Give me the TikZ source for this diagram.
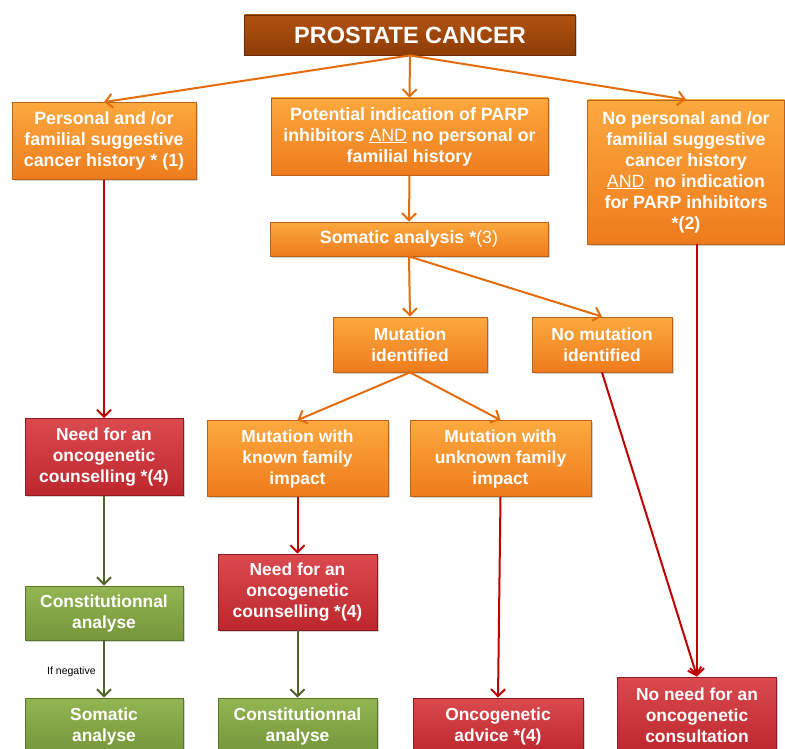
\documentclass[tikz,border=0pt]{standalone}
\usepackage{fontspec}
\setmainfont{Liberation Sans}
\usetikzlibrary{arrows.meta,shadows}
\definecolor{orT}{HTML}{FCA93E}
\definecolor{orB}{HTML}{EE7B1C}
\definecolor{orD}{HTML}{B8621C}
\definecolor{brT}{HTML}{B0520F}
\definecolor{brB}{HTML}{8E3C07}
\definecolor{brD}{HTML}{6A2C05}
\definecolor{rdT}{HTML}{DA4A4F}
\definecolor{rdB}{HTML}{BC272D}
\definecolor{rdD}{HTML}{8A1C20}
\definecolor{gnT}{HTML}{93B552}
\definecolor{gnB}{HTML}{76963A}
\definecolor{gnD}{HTML}{5A7429}
\definecolor{arO}{HTML}{E46C0A}
\definecolor{arR}{HTML}{C00000}
\definecolor{arG}{HTML}{4F6228}
\tikzset{
  basebox/.style={rectangle, line width=0.8pt, inner sep=2pt, align=center,
    text=white, drop shadow={opacity=0.35, shadow xshift=1.5pt, shadow yshift=-1.5pt}},
  obox/.style={basebox, top color=orT, bottom color=orB, draw=orD,
    font=\bfseries\fontsize{17.8}{21}\selectfont},
  mbox/.style={basebox, top color=orT, bottom color=orB, draw=orD,
    font=\bfseries\fontsize{17.4}{21}\selectfont},
  rbox/.style={basebox, top color=rdT, bottom color=rdB, draw=rdD,
    font=\bfseries\fontsize{17.4}{21}\selectfont},
  gbox/.style={basebox, top color=gnT, bottom color=gnB, draw=gnD,
    font=\bfseries\fontsize{17.4}{21}\selectfont},
  tbox/.style={basebox, top color=brT, bottom color=brB, draw=brD,
    font=\bfseries\fontsize{23.5}{26}\selectfont},
  conn/.style={line width=2pt, -{Straight Barb[length=7pt,width=14pt,line width=2pt]}},
  aor/.style={conn, draw=arO},
  ard/.style={conn, draw=arR},
  agr/.style={conn, draw=arG},
}
\begin{document}
\begin{tikzpicture}[x=1pt,y=-1pt]
\useasboundingbox[fill=white] (0,0) rectangle (785,749);
\node[tbox, minimum width=331pt, minimum height=40pt] (title) at (410,35) {PROSTATE CANCER};
\node[obox, minimum width=184pt, minimum height=77pt] (b1) at (104,141)
  {Personal and /or\\familial suggestive\\cancer history * (1)};
\node[obox, minimum width=277pt, minimum height=77pt] (b2) at (409.5,136.5)
  {Potential indication of PARP\\inhibitors {\mdseries\underline{AND}} no personal or\\familial history};
\node[obox, minimum width=197pt, minimum height=144pt] (b3) at (686,172)
  {No personal and /or\\familial suggestive\\cancer history\\{\mdseries\underline{AND}}\ \ no indication\\for PARP inhibitors\\*(2)};
\node[obox, minimum width=278pt, minimum height=34pt] (som) at (409,239)
  {Somatic analysis *{\mdseries(3)}};
\node[mbox, minimum width=154pt, minimum height=55pt] (mi) at (410,344.5)
  {Mutation\\identified};
\node[mbox, minimum width=140pt, minimum height=55pt] (nmi) at (602,344.5)
  {No mutation\\identified};
\node[rbox, minimum width=158pt, minimum height=77pt] (need1) at (104,457)
  {Need for an\\oncogenetic\\counselling *(4)};
\node[mbox, minimum width=181pt, minimum height=76pt] (mk) at (297.5,458.5)
  {Mutation with\\known family\\impact};
\node[mbox, minimum width=181pt, minimum height=76pt] (mu) at (500.5,458.5)
  {Mutation with\\unknown family\\impact};
\node[rbox, minimum width=159pt, minimum height=76pt] (need2) at (297.5,592)
  {Need for an\\oncogenetic\\counselling *(4)};
\node[gbox, minimum width=158pt, minimum height=54pt] (con1) at (104,613)
  {Constitutionnal\\analyse};
\node[gbox, minimum width=158pt, minimum height=56pt] (soma) at (104,726)
  {Somatic\\analyse};
\node[gbox, minimum width=159pt, minimum height=56pt] (con2) at (297.5,726)
  {Constitutionnal\\analyse};
\node[rbox, minimum width=170pt, minimum height=56pt] (adv) at (498,726)
  {Oncogenetic\\advice *(4)};
\node[rbox, minimum width=159pt, minimum height=76pt] (noneed) at (697,715)
  {No need for an\\oncogenetic\\consultation};
% connectors
\draw[aor] (title.south) -- (b1.north);
\draw[aor] (title.south) -- (b2.north);
\draw[aor] (title.south) -- (b3.north);
\draw[aor] (b2.south) -- (som.north);
\draw[aor] (som.south) -- (mi.north);
\draw[aor] (som.south) -- (nmi.north);
\draw[aor] (mi.south) -- (mk.north);
\draw[aor] (mi.south) -- (mu.north);
\draw[ard] (b1.south) -- (need1.north);
\draw[agr] (need1.south) -- (con1.north);
\draw[agr] (con1.south) -- node[left, text=black, font=\fontsize{10.5}{12}\selectfont, xshift=-4pt, yshift=-3pt] {If negative} (soma.north);
\draw[ard] (mk.south) -- (need2.north);
\draw[agr] (need2.south) -- (con2.north);
\draw[ard] (mu.south) -- (adv.north);
\draw[ard] (nmi.south) -- (noneed.north);
\draw[ard] (b3.south -| noneed.north) -- (noneed.north);
\end{tikzpicture}
\end{document}
